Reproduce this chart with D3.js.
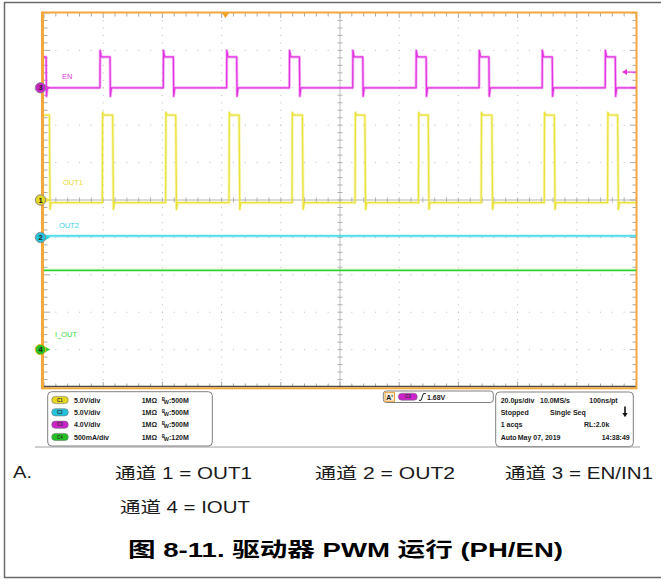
<!DOCTYPE html>
<html><head><meta charset="utf-8">
<script src="https://cdn.jsdelivr.net/npm/d3@7"></script>
<style>body{margin:0;background:#fff}svg{display:block}</style>
</head><body><svg id="c" width="661" height="582"></svg>
<script>
// ---------------- data ----------------
const channelIds = ["C1", "C2", "C3", "C4"];
const channelNames = ["OUT1", "OUT2", "EN", "I_OUT"];
const channelScaleText = ["5.0V/div", "5.0V/div", "4.0V/div", "500mA/div"];
const channelUnitsPerDiv = [5, 5, 4, 0.5];
const channelOffsetDiv = [0, -1, 3, -4];
const channelBandwidth = ["500M", "500M", "500M", "120M"];
const channelImpedance = "1MΩ";

const timePerDiv = 20;              // µs / div
const timeDomain = [0, 200];        // µs across screen
const divDomain = [-5, 5];          // vertical divisions

// EN (C3) edges, µs
const enRise = [18.9, 40.3, 61.7, 82.9, 104.3, 125.7, 147.0, 168.3, 189.6];
const enFall = [0.7, 22.3, 43.7, 65.1, 86.3, 107.7, 129.1, 150.3, 171.7, 193.0];
const enLow = 0.0, enHigh = 3.3, enOver = 4.0, enUnder = -0.9;
// OUT1 (C1) edges, µs
const out1Rise = [19.7, 41.1, 62.5, 83.8, 105.1, 126.5, 147.7, 169.0, 190.4];
const out1Fall = [1.8, 23.2, 44.5, 65.9, 87.3, 108.4, 129.8, 151.3, 172.4, 193.8];
const out1Low = -0.36, out1High = 11.35, out1Over = 11.7, out1Under = -1.25;
// OUT2 (C2) and IOUT (C4) levels
const out2Level = 0.2;
const ioutLevel = 1.06;
// trigger
const triggerTime = 61.3;
const triggerLevel = 1.68;
const triggerText = "1.68V";

const timebaseRows = [
  ["20.0µs/div", "10.0MS/s", "100ns/pt"],
  ["Stopped", "Single Seq", ""],
  ["1 acqs", "", "RL:2.0k"],
  ["Auto", "May 07, 2019", "14:38:49"]
];
const notes = ["通道 1 = OUT1", "通道 2 = OUT2", "通道 3 = EN/IN1", "通道 4 = IOUT"];
const caption = "图 8-11. 驱动器 PWM 运行 (PH/EN)";

// ---------------- drawing ----------------
const svg = d3.select("#c");
const X0 = 44, X1 = 636, Y0 = 13, Y1 = 387;
const x = d3.scaleLinear().domain(timeDomain).range([X0, X1]);
const yDiv = d3.scaleLinear().domain(divDomain).range([Y1, Y0]);
const yCh = (i, v) => yDiv(channelOffsetDiv[i] + v / channelUnitsPerDiv[i]);

const colors = ["#ece23c", "#2ed6e6", "#e232e2", "#2ed42e"];
const labelColors = ["#e8dc30", "#30d4e4", "#e040e0", "#40d840"];
const badgeColors = ["#e6d820", "#22c4dc", "#cc22cc", "#22c022"];
const FONT = "'Liberation Sans', Arial, 'Noto Sans CJK SC', sans-serif";

// outer frame
svg.append("line").attr("x1", 4.5).attr("x2", 4.5).attr("y1", 2).attr("y2", 578).attr("stroke", "#6a6a6a").attr("stroke-width", 1.5);
svg.append("line").attr("x1", 4).attr("x2", 661).attr("y1", 2.5).attr("y2", 2.5).attr("stroke", "#6a6a6a").attr("stroke-width", 1.5);
svg.append("line").attr("x1", 4).attr("x2", 661).attr("y1", 577.5).attr("y2", 577.5).attr("stroke", "#6a6a6a").attr("stroke-width", 1.5);

// graticule
const g = svg.append("g");
const majorT = d3.range(timeDomain[0], timeDomain[1] + 0.01, timePerDiv);
const minorT = d3.range(timeDomain[0], timeDomain[1] + 0.01, timePerDiv / 5);
const majorD = d3.range(divDomain[0], divDomain[1] + 0.01, 1);
const minorD = d3.range(divDomain[0], divDomain[1] + 0.01, 0.2);
const midT = (timeDomain[0] + timeDomain[1]) / 2;

// dotted interior lines
majorT.filter(t => t > timeDomain[0] && t < timeDomain[1] && t !== midT).forEach(t => {
  g.selectAll(null).data(minorD.slice(1, -1)).enter().append("rect")
    .attr("x", x(t) - 0.5).attr("y", d => yDiv(d) - 0.5).attr("width", 1).attr("height", 1.2).attr("fill", "#c4c4c4");
});
majorD.filter(d => d > divDomain[0] && d < divDomain[1] && d !== 0).forEach(d => {
  g.selectAll(null).data(minorT.slice(1, -1)).enter().append("rect")
    .attr("x", t => x(t) - 0.6).attr("y", yDiv(d) - 0.5).attr("width", 1.2).attr("height", 1).attr("fill", "#c4c4c4");
});
// centre lines
g.append("line").attr("x1", X0).attr("x2", X1).attr("y1", yDiv(0)).attr("y2", yDiv(0)).attr("stroke", "#b4b4b4").attr("stroke-width", 1);
g.append("line").attr("x1", x(midT)).attr("x2", x(midT)).attr("y1", Y0).attr("y2", Y1).attr("stroke", "#c0c0c0").attr("stroke-width", 1);
g.selectAll(null).data(minorT).enter().append("line")
  .attr("x1", t => x(t)).attr("x2", t => x(t)).attr("y1", yDiv(0) - 2.5).attr("y2", yDiv(0) + 2.5).attr("stroke", "#b0b0b0");
g.selectAll(null).data(minorD).enter().append("line")
  .attr("x1", x(midT) - 2.5).attr("x2", x(midT) + 2.5).attr("y1", d => yDiv(d)).attr("y2", d => yDiv(d)).attr("stroke", "#b0b0b0");
// edge ticks
const isMajT = t => Math.abs(t / timePerDiv - Math.round(t / timePerDiv)) < 1e-6;
const isMajD = d => Math.abs(d - Math.round(d)) < 1e-6;
g.selectAll(null).data(minorT).enter().append("line")
  .attr("x1", t => x(t)).attr("x2", t => x(t)).attr("y1", Y0).attr("y2", t => Y0 + (isMajT(t) ? 5 : 3.5)).attr("stroke", "#a8a8a8");
g.selectAll(null).data(minorT).enter().append("line")
  .attr("x1", t => x(t)).attr("x2", t => x(t)).attr("y1", Y1).attr("y2", t => Y1 - (isMajT(t) ? 5 : 3.5)).attr("stroke", "#a8a8a8");
g.selectAll(null).data(minorD).enter().append("line")
  .attr("x1", X0).attr("x2", d => X0 + (isMajD(d) ? 6 : 3.5)).attr("y1", d => yDiv(d)).attr("y2", d => yDiv(d)).attr("stroke", "#a8a8a8");
g.selectAll(null).data(minorD).enter().append("line")
  .attr("x1", X1).attr("x2", d => X1 - (isMajD(d) ? 6 : 3.5)).attr("y1", d => yDiv(d)).attr("y2", d => yDiv(d)).attr("stroke", "#a8a8a8");
// bottom dark line + orange frame
g.append("line").attr("x1", X0).attr("x2", X1).attr("y1", Y1 - 0.5).attr("y2", Y1 - 0.5).attr("stroke", "#4a4a4a").attr("stroke-width", 1.5);
g.append("rect").attr("x", X0 - 1).attr("y", Y0 - 0.5).attr("width", X1 - X0 + 1.5).attr("height", Y1 - Y0 + 1.8)
  .attr("fill", "none").attr("stroke", "#f2a83c").attr("stroke-width", 2);
g.append("line").attr("x1", X0 - 1.5).attr("x2", X0 - 1.5).attr("y1", Y0 - 1.5).attr("y2", Y1 + 2.3).attr("stroke", "#f2a83c").attr("stroke-width", 3);

// ---------------- traces ----------------
function squareTrace(rises, falls, lo, hi, over, under, riseW, fallW) {
  const ev = rises.map(t => ({ t, up: true })).concat(falls.map(t => ({ t, up: false }))).sort((a, b) => a.t - b.t);
  const pts = [[timeDomain[0], ev[0].up ? lo : hi]];
  ev.forEach(e => {
    if (e.up) pts.push([e.t, lo], [e.t + riseW, over], [e.t + riseW + 0.4, hi]);
    else pts.push([e.t, hi], [e.t + fallW, under], [e.t + fallW + 0.35, lo]);
  });
  pts.push([timeDomain[1], ev[ev.length - 1].up ? hi : lo]);
  return pts;
}
const traces = [
  { i: 3, pts: [[timeDomain[0], ioutLevel], [timeDomain[1], ioutLevel]] },
  { i: 1, pts: [[timeDomain[0], out2Level], [timeDomain[1], out2Level]] },
  { i: 0, pts: squareTrace(out1Rise, out1Fall, out1Low, out1High, out1Over, out1Under, 0.1, 0.25) },
  { i: 2, pts: squareTrace(enRise, enFall, enLow, enHigh, enOver, enUnder, 0.06, 0.12) }
];
const tg = svg.append("g");
traces.forEach(tr => {
  const line = d3.line().x(d => x(d[0])).y(d => yCh(tr.i, d[1]));
  tg.append("path").attr("d", line(tr.pts)).attr("fill", "none").attr("stroke", colors[tr.i])
    .attr("stroke-width", 3).attr("stroke-opacity", 0.35).attr("stroke-linejoin", "round");
  tg.append("path").attr("d", line(tr.pts)).attr("fill", "none").attr("stroke", colors[tr.i])
    .attr("stroke-width", 1.3).attr("stroke-linejoin", "round");
});

// channel labels on screen
const labelPos = [[63, 185], [59, 228], [62, 79], [55, 337]];
channelNames.forEach((n, i) => {
  svg.append("text").attr("x", labelPos[i][0]).attr("y", labelPos[i][1]).text(n)
    .attr("font-family", FONT).attr("font-size", 7.5).attr("fill", labelColors[i]);
});

// channel ground markers
const mk = svg.append("g");
channelIds.forEach((id, i) => {
  const yy = yCh(i, 0);
  mk.append("path").attr("d", `M${X0 + 1},${yy - 3} L${X0 + 6},${yy} L${X0 + 1},${yy + 3} Z`).attr("fill", colors[i]);
  mk.append("circle").attr("cx", 40.5).attr("cy", yy).attr("r", 5.2)
    .attr("fill", badgeColors[i]).attr("stroke", i === 3 ? "#f0b020" : "#8a8a8a").attr("stroke-width", 1);
  mk.append("text").attr("x", 40.5).attr("y", yy + 2.6).attr("text-anchor", "middle").text(id.slice(1))
    .attr("font-family", FONT).attr("font-size", 7.5).attr("font-weight", "bold").attr("fill", "#222");
});

// trigger position marker & level arrow
const tx = x(triggerTime);
svg.append("path").attr("d", `M${tx - 3.5},${Y0} L${tx + 3.5},${Y0} L${tx},${Y0 + 5} Z`).attr("fill", "#f2a020");
const ty = yCh(2, triggerLevel);
svg.append("line").attr("x1", X1 - 12).attr("x2", X1).attr("y1", ty).attr("y2", ty).attr("stroke", colors[2]).attr("stroke-width", 1.3);
svg.append("path").attr("d", `M${X1 - 14},${ty} L${X1 - 9},${ty - 3} L${X1 - 9},${ty + 3} Z`).attr("fill", colors[2]);

// ---------------- info panel ----------------
svg.append("line").attr("x1", 35).attr("x2", 640).attr("y1", 447).attr("y2", 447).attr("stroke", "#a0a0a0").attr("stroke-width", 1);
const ip = svg.append("g").attr("font-family", FONT).attr("font-weight", "bold").attr("fill", "#1a1a1a");
ip.append("rect").attr("x", 47.7).attr("y", 391.7).attr("width", 164.6).attr("height", 54.3).attr("rx", 4)
  .attr("fill", "#fff").attr("stroke", "#808080");
const rowY = [400, 412.3, 424.7, 437];
channelIds.forEach((id, i) => {
  const yy = rowY[i];
  ip.append("rect").attr("x", 51.7).attr("y", yy - 3.6).attr("width", 16.6).attr("height", 7.2).attr("rx", 3.6)
    .attr("fill", badgeColors[i]).attr("stroke", "#707070").attr("stroke-width", 0.6);
  ip.append("text").attr("x", 60).attr("y", yy + 1.7).attr("text-anchor", "middle").text(id)
    .attr("font-size", 4.5).attr("fill", "#333");
  ip.append("text").attr("x", 74).attr("y", yy + 2.7).text(channelScaleText[i]).attr("font-size", 7);
  ip.append("text").attr("x", 141.7).attr("y", yy + 2.7).text(channelImpedance).attr("font-size", 7);
  const bw = ip.append("text").attr("x", 161.7).attr("y", yy + 2.7).attr("font-size", 7);
  bw.append("tspan").text("B").attr("font-size", 4.5).attr("dy", -2.2);
  bw.append("tspan").text("W").attr("font-size", 5.5).attr("dy", 3.2).attr("dx", -1.2);
  bw.append("tspan").text(":" + channelBandwidth[i]).attr("dy", -1);
});

// trigger box
ip.append("rect").attr("x", 383.3).attr("y", 391).attr("width", 110).attr("height", 11.5).attr("rx", 3)
  .attr("fill", "#fff").attr("stroke", "#808080");
ip.append("rect").attr("x", 385).attr("y", 392.3).attr("width", 9.5).attr("height", 9).attr("fill", "#f6ecd8").attr("stroke", "#f0a030").attr("stroke-width", 1);
ip.append("text").attr("x", 386.3).attr("y", 399.8).text("A'").attr("font-size", 7);
ip.append("rect").attr("x", 398.3).attr("y", 393.2).attr("width", 19).attr("height", 7).attr("rx", 3.5)
  .attr("fill", badgeColors[2]).attr("stroke", "#707070").attr("stroke-width", 0.6);
ip.append("text").attr("x", 407.8).attr("y", 398.4).attr("text-anchor", "middle").text("C3").attr("font-size", 4.5).attr("fill", "#333");
ip.append("path").attr("d", "M419,400.3 L421,400.3 L423.4,393.6 L425.8,393.6").attr("fill", "none").attr("stroke", "#1a1a1a").attr("stroke-width", 1);
ip.append("text").attr("x", 427).attr("y", 399.7).text(triggerText).attr("font-size", 7);

// timebase box
ip.append("rect").attr("x", 495.7).attr("y", 392).attr("width", 137.6).attr("height", 54.7).attr("rx", 4)
  .attr("fill", "#fff").attr("stroke", "#808080");
const colX = [[500.7, 540, 589.3], [500.7, 550, 0], [500.7, 0, 584], [500.7, 517.7, 601.7]];
timebaseRows.forEach((row, r) => {
  row.forEach((s, c) => {
    if (!s) return;
    ip.append("text").attr("x", colX[r][c]).attr("y", rowY[r] + 2.7).text(s).attr("font-size", 7);
  });
});
// stop arrow
ip.append("line").attr("x1", 625).attr("x2", 625).attr("y1", 406.5).attr("y2", 414).attr("stroke", "#111").attr("stroke-width", 1.6);
ip.append("path").attr("d", "M622.4,413 L627.6,413 L625,417.2 Z").attr("fill", "#111");

// ---------------- notes & caption ----------------
const nt = svg.append("g").attr("font-family", FONT).attr("fill", "#1a1a1a");
nt.append("text").attr("x", 13).attr("y", 478).text("A.").attr("font-size", 16)
  .attr("textLength", 19).attr("lengthAdjust", "spacingAndGlyphs");
const notePos = [[115, 479, 137], [315, 479, 140], [505, 479, 148], [120, 513, 130]];
notes.forEach((s, i) => {
  nt.append("text").attr("x", notePos[i][0]).attr("y", notePos[i][1]).text(s).attr("font-size", 16)
    .attr("textLength", notePos[i][2]).attr("lengthAdjust", "spacingAndGlyphs");
});
nt.append("text").attr("x", 128).attr("y", 557).text(caption).attr("font-size", 20).attr("font-weight", "bold")
  .attr("fill", "#000").attr("textLength", 435).attr("lengthAdjust", "spacingAndGlyphs");
</script></body></html>
